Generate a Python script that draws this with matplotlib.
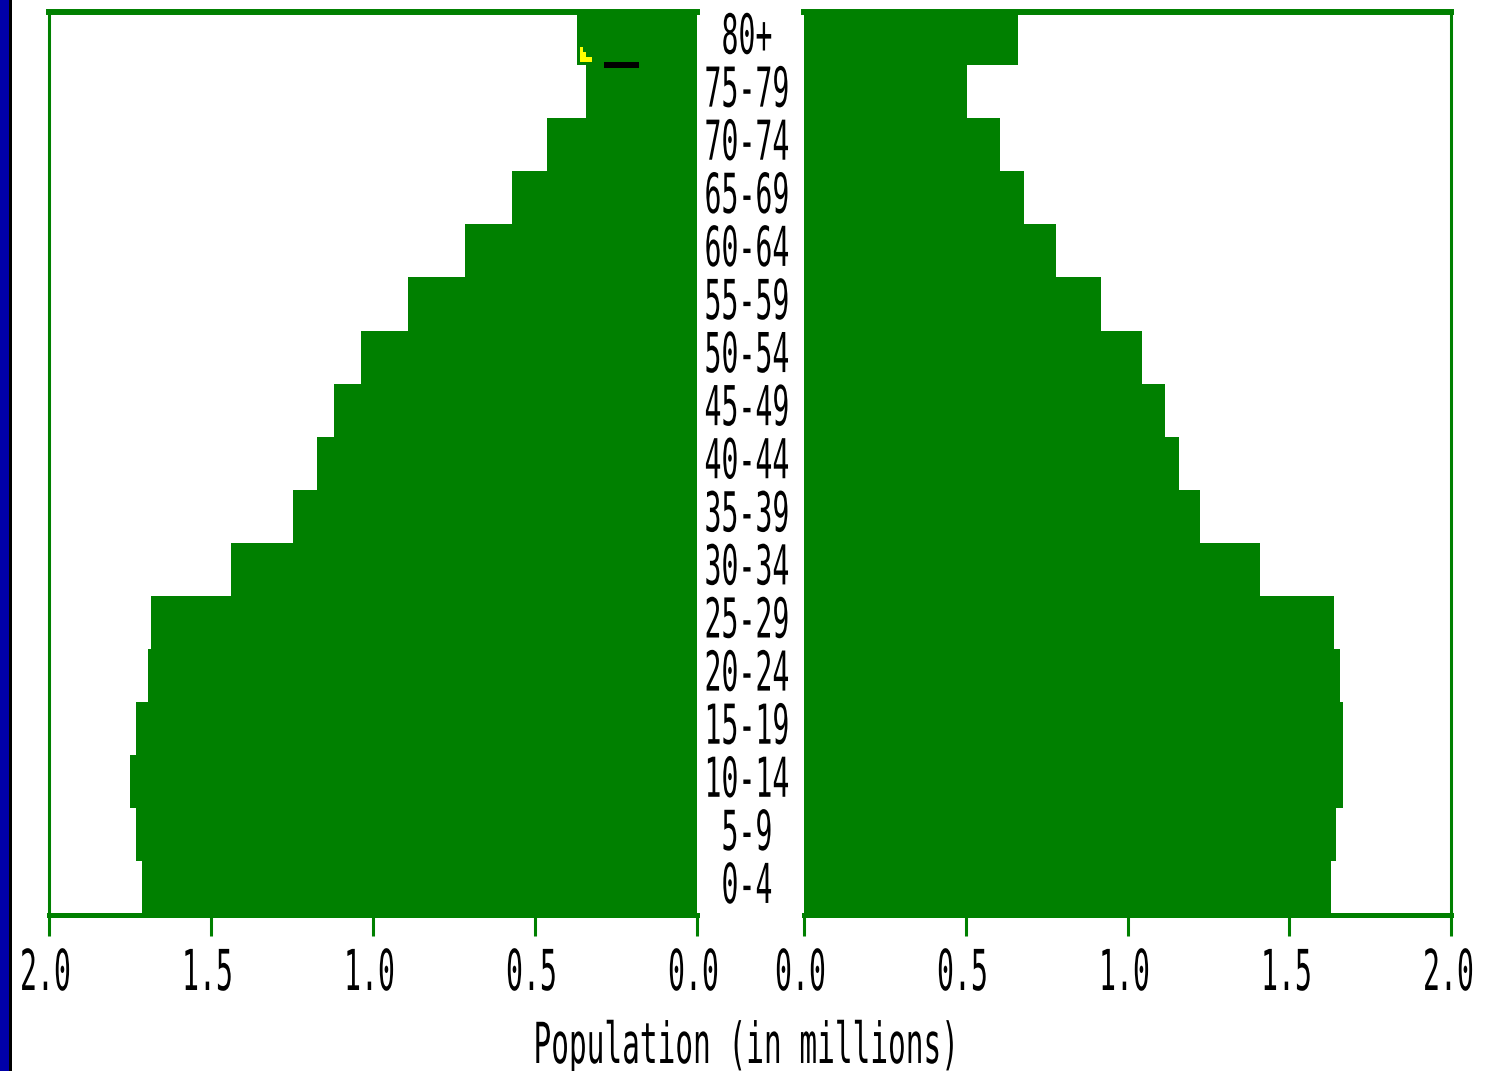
import matplotlib
matplotlib.use("Agg")
import matplotlib.pyplot as plt
from matplotlib import patheffects
from matplotlib.transforms import Affine2D, blended_transform_factory, offset_copy
from matplotlib.patches import Rectangle

# ---------------- data ----------------
age_groups = ["0-4", "5-9", "10-14", "15-19", "20-24", "25-29", "30-34", "35-39",
              "40-44", "45-49", "50-54", "55-59", "60-64", "65-69", "70-74", "75-79", "80+"]
male = [1.711, 1.730, 1.749, 1.730, 1.693, 1.684, 1.437, 1.245, 1.171, 1.119,
        1.035, 0.890, 0.715, 0.569, 0.461, 0.341, 0.369]
female = [1.628, 1.644, 1.665, 1.665, 1.656, 1.638, 1.409, 1.224, 1.159, 1.116,
          1.045, 0.918, 0.779, 0.681, 0.606, 0.505, 0.662]
ticks = [0.0, 0.5, 1.0, 1.5, 2.0]
tick_labels = ["0.0", "0.5", "1.0", "1.5", "2.0"]
xlabel = "Population (in millions)"

# ---------------- style ----------------
GREEN = "#008000"
MONO = "DejaVu Sans Mono"
W, H, DPI = 1485, 1071, 100


class Stretch(patheffects.AbstractPathEffect):
    """Stretch glyphs vertically about their baseline (condensed terminal look)."""
    def __init__(self, sy):
        super().__init__()
        self.sy = sy

    def draw_path(self, renderer, gc, tpath, affine, rgbFace=None):
        renderer.draw_path(gc, tpath, Affine2D().scale(1.0, self.sy) + affine, rgbFace)


def fx(px):
    return px / W


def fy(py):
    return 1 - py / H


fig = plt.figure(figsize=(W / DPI, H / DPI), dpi=DPI)
fig.patch.set_facecolor("white")

# blue / black stripe at the left edge
fig.patches.append(Rectangle((0, 0), fx(9), 1, transform=fig.transFigure,
                             facecolor="#0000A8", edgecolor="none", zorder=0))
fig.patches.append(Rectangle((fx(9), 0), fx(3), 1, transform=fig.transFigure,
                             facecolor="black", edgecolor="none", zorder=0))

top_px, bot_px = 12, 914.5
axL = fig.add_axes([fx(48.5), fy(bot_px), fx(696.5 - 48.5), (bot_px - top_px) / H])
axR = fig.add_axes([fx(803.5), fy(bot_px), fx(1451.5 - 803.5), (bot_px - top_px) / H])

ypos = list(range(len(age_groups)))
for ax, vals in ((axL, male), (axR, female)):
    ax.barh(ypos, vals, height=1.0, color=GREEN, linewidth=0, antialiased=False)
    ax.set_ylim(-0.5, len(age_groups) - 0.5)
    ax.set_yticks([])
    ax.set_xticks(ticks)
    ax.tick_params(axis="x", direction="out", length=15, width=2.2,
                   color=GREEN, labelbottom=False)
    for s in ax.spines.values():
        s.set_color(GREEN)
    ax.spines["top"].set_linewidth(4.3)
    ax.spines["bottom"].set_linewidth(3.6)
    ax.set_facecolor("white")

axL.set_xlim(2.0, 0.0)
axR.set_xlim(0.0, 2.0)
axL.spines["right"].set_visible(False)
axL.spines["left"].set_linewidth(2.2)
axR.spines["left"].set_visible(False)
axR.spines["right"].set_linewidth(2.2)

# tick labels (x ticks)
for ax in (axL, axR):
    tr = offset_copy(blended_transform_factory(ax.transData, fig.transFigure),
                     fig=fig, x=-3, y=0, units="dots")
    for v, lab in zip(ticks, tick_labels):
        ax.text(v, fy(990), lab, transform=tr, ha="center", va="baseline",
                fontsize=20.3, family=MONO, color="black", clip_on=False,
                path_effects=[Stretch(2.0)])

# age group labels in the centre gap
tr_age = offset_copy(blended_transform_factory(fig.transFigure, axL.transData),
                     fig=fig, x=0, y=-15, units="dots")
for i, lab in zip(ypos, age_groups):
    axL.text(fx(747), i, lab, transform=tr_age, ha="center", va="baseline",
             fontsize=20.3, family=MONO, color="black", clip_on=False,
             path_effects=[Stretch(1.95)])

# axis title
fig.text(fx(745), fy(1063), xlabel, ha="center", va="baseline",
         fontsize=21.2, family=MONO, color="black",
         path_effects=[Stretch(1.92)])

# small cursor artefacts visible in the original screenshot
for (x0, y0, x1, y1, c) in [(580, 47, 583, 62, "#FFFF00"), (583, 52, 586, 62, "#FFFF00"),
                            (580, 57, 592, 62, "#FFFF00"), (604, 62, 639, 68, "black")]:
    fig.patches.append(Rectangle((fx(x0), fy(y1)), fx(x1 - x0), (y1 - y0) / H,
                                 transform=fig.transFigure, facecolor=c,
                                 edgecolor="none", zorder=10))

fig.savefig("out.png", dpi=DPI, facecolor="white")
